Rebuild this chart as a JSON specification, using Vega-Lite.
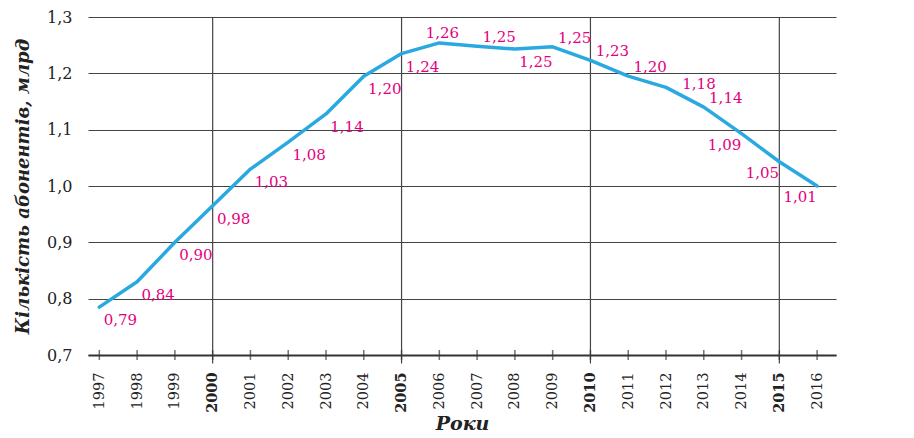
{
  "$schema": "https://vega.github.io/schema/vega-lite/v6.json",
  "width": 748,
  "height": 338,
  "autosize": "none",
  "padding": {"left": 88, "top": 17, "right": 78, "bottom": 83},
  "background": "white",
  "config": {"view": {"stroke": null}, "font": "DejaVu Serif"},
  "data": {
    "values": [
      {"year": 1997, "value": 0.785, "label": "0,79", "pos": "rb"},
      {"year": 1998, "value": 0.83, "label": "0,84", "pos": "rb"},
      {"year": 1999, "value": 0.9, "label": "0,90", "pos": "rb"},
      {"year": 2000, "value": 0.965, "label": "0,98", "pos": "rb"},
      {"year": 2001, "value": 1.03, "label": "1,03", "pos": "rb"},
      {"year": 2002, "value": 1.078, "label": "1,08", "pos": "rb"},
      {"year": 2003, "value": 1.128, "label": "1,14", "pos": "rb"},
      {"year": 2004, "value": 1.195, "label": "1,20", "pos": "rb"},
      {"year": 2005, "value": 1.235, "label": "1,24", "pos": "rb"},
      {"year": 2006, "value": 1.254, "label": "1,26", "pos": "a"},
      {"year": 2007, "value": 1.248, "label": "1,25", "pos": "ra"},
      {"year": 2008, "value": 1.243, "label": "1,25", "pos": "rb"},
      {"year": 2009, "value": 1.247, "label": "1,25", "pos": "ra"},
      {"year": 2010, "value": 1.223, "label": "1,23", "pos": "ra"},
      {"year": 2011, "value": 1.195, "label": "1,20", "pos": "ra"},
      {"year": 2012, "value": 1.175, "label": "1,18", "pos": "r"},
      {"year": 2013, "value": 1.14, "label": "1,14", "pos": "ra"},
      {"year": 2014, "value": 1.093, "label": "1,09", "pos": "lb"},
      {"year": 2015, "value": 1.043, "label": "1,05", "pos": "lb"},
      {"year": 2016, "value": 1.0, "label": "1,01", "pos": "lb"}
    ]
  },
  "encoding": {
    "x": {
      "field": "year",
      "type": "quantitative",
      "scale": {"domain": [1996.7, 2016.5], "nice": false, "zero": false},
      "axis": {
        "values": [1997,1998,1999,2000,2001,2002,2003,2004,2005,2006,2007,2008,2009,2010,2011,2012,2013,2014,2015,2016],
        "format": "d",
        "labelAngle": -90,
        "labelAlign": "right",
        "labelBaseline": "middle",
        "labelFontSize": 14.5,
        "labelColor": "#222",
        "labelFontWeight": {"expr": "datum.value % 5 === 0 ? 'bold' : 'normal'"},
        "labelPadding": 17,
        "ticks": false,
        "grid": false,
        "domainColor": "#333",
        "domainWidth": 2,
        "title": "Роки",
        "titleFontSize": 19,
        "titleFontWeight": "bold",
        "titleFontStyle": "italic",
        "titleColor": "#222",
        "titlePadding": 2
      }
    },
    "y": {
      "field": "value",
      "type": "quantitative",
      "scale": {"domain": [0.7, 1.3], "nice": false, "zero": false},
      "axis": {
        "values": [0.7, 0.8, 0.9, 1.0, 1.1, 1.2, 1.3],
        "labelExpr": "replace(format(datum.value, '.1f'), '.', ',')",
        "labelFontSize": 16,
        "labelColor": "#222",
        "labelPadding": 16,
        "ticks": false,
        "domain": false,
        "grid": true,
        "gridColor": "#444",
        "gridWidth": 1.2,
        "title": "Кількість абонентів, млрд",
        "titleFontSize": 18,
        "titleFontWeight": "bold",
        "titleFontStyle": "italic",
        "titleColor": "#222",
        "titlePadding": 14
      }
    }
  },
  "layer": [
    {
      "transform": [{"filter": "datum.year % 5 === 0"}],
      "mark": {"type": "rule", "color": "#444", "strokeWidth": 1.2},
      "encoding": {"y": {"datum": 1.3}, "y2": {"datum": 0.685}}
    },
    {
      "mark": {"type": "tick", "orient": "vertical", "color": "#333", "size": 10, "thickness": 1.5},
      "encoding": {"y": {"datum": 0.7}}
    },
    {
      "mark": {"type": "line", "color": "#29a9e0", "strokeWidth": 3.5, "strokeCap": "round", "strokeJoin": "round"}
    },
    {
      "transform": [{"filter": "datum.pos === 'rb'"}],
      "mark": {"type": "text", "color": "#e5007e", "fontSize": 15, "dx": 21, "dy": 13},
      "encoding": {"text": {"field": "label"}}
    },
    {
      "transform": [{"filter": "datum.pos === 'ra'"}],
      "mark": {"type": "text", "color": "#e5007e", "fontSize": 15, "dx": 22, "dy": -9},
      "encoding": {"text": {"field": "label"}}
    },
    {
      "transform": [{"filter": "datum.pos === 'a'"}],
      "mark": {"type": "text", "color": "#e5007e", "fontSize": 15, "dx": 3, "dy": -10},
      "encoding": {"text": {"field": "label"}}
    },
    {
      "transform": [{"filter": "datum.pos === 'r'"}],
      "mark": {"type": "text", "color": "#e5007e", "fontSize": 15, "dx": 33, "dy": -3},
      "encoding": {"text": {"field": "label"}}
    },
    {
      "transform": [{"filter": "datum.pos === 'lb'"}],
      "mark": {"type": "text", "color": "#e5007e", "fontSize": 15, "dx": -17, "dy": 11},
      "encoding": {"text": {"field": "label"}}
    }
  ]
}
